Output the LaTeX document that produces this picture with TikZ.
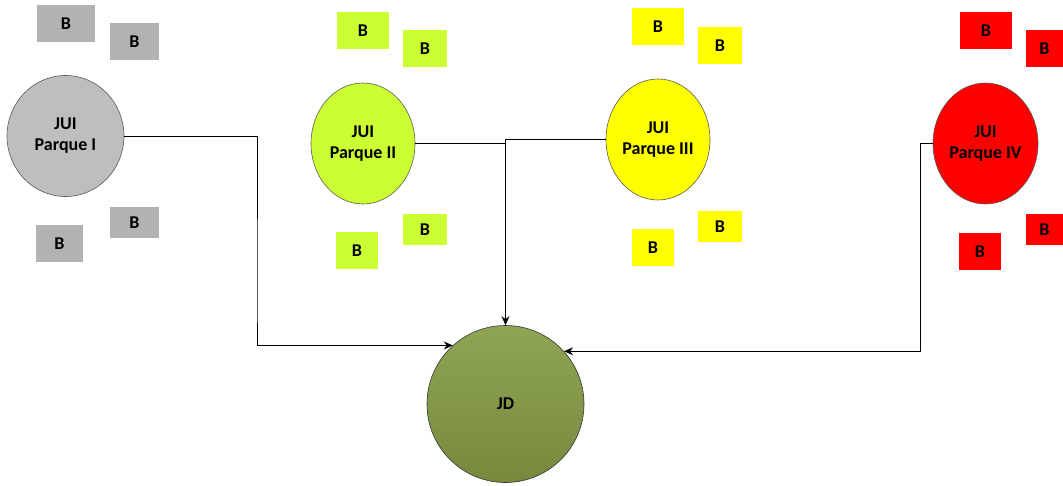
\documentclass[tikz,border=0pt]{standalone}
\usepackage{fontspec}
\setmainfont{Carlito}[BoldFont={Carlito Bold}]
\usepackage{tikz}
\usetikzlibrary{arrows.meta,shapes.geometric}
\definecolor{grey}{HTML}{B2B2B2}
\definecolor{lime}{HTML}{CCFF33}
\definecolor{yell}{HTML}{FFFF00}
\definecolor{rojo}{HTML}{FF0000}
\definecolor{olivetop}{HTML}{90A455}
\definecolor{olivebot}{HTML}{76893D}
\tikzset{
  every picture/.style={font=\fontsize{18}{21}\selectfont\bfseries, line join=round, >={Stealth[length=9pt,width=8pt]}},
  jui/.style={ellipse, draw=black!65, line width=0.6pt, inner sep=0pt, align=center},
  bx/.style={inner sep=0pt, minimum height=37pt},
  link/.style={line width=0.9pt},
}
\begin{document}
\begin{tikzpicture}[x=1pt,y=-1pt]
\useasboundingbox (0,0) rectangle (1063,486);
% parques
\node[jui, fill=grey!85, minimum width=117pt, minimum height=121pt](p1) at (65.5,136){JUI\\Parque I};
\node[jui, fill=lime, minimum width=104pt, minimum height=121pt](p2) at (363,143.5){JUI\\Parque II};
\node[jui, fill=yell, minimum width=104pt, minimum height=121pt](p3) at (658,139.5){JUI\\Parque III};
\node[jui, fill=rojo, minimum width=105pt, minimum height=121pt](p4) at (985.5,143.5){JUI\\Parque IV};
\node[circle, draw=black!80, line width=0.6pt, top color=olivetop, bottom color=olivebot, minimum size=157pt, inner sep=0pt](jd) at (505.5,404){JD};
% bloques
\node[bx, fill=grey, minimum width=58pt](g1) at (66,23.5){B};
\node[bx, fill=grey, minimum width=49pt](g2) at (134.5,41.5){B};
\node[bx, fill=grey, minimum width=49pt, minimum height=31pt](g3) at (134.5,222.5){B};
\node[bx, fill=grey, minimum width=47pt](g4) at (59.5,243.5){B};
\node[bx, fill=lime, minimum width=52pt](l1) at (363,30.5){B};
\node[bx, fill=lime, minimum width=44pt](l2) at (425,48.5){B};
\node[bx, fill=lime, minimum width=44pt, minimum height=31pt](l3) at (425,229.5){B};
\node[bx, fill=lime, minimum width=42pt](l4) at (357,251){B};
\node[bx, fill=yell, minimum width=52pt](y1) at (658,26.5){B};
\node[bx, fill=yell, minimum width=44pt](y2) at (720,45.5){B};
\node[bx, fill=yell, minimum width=44pt, minimum height=31pt](y3) at (720,226.5){B};
\node[bx, fill=yell, minimum width=42pt](y4) at (653,247.5){B};
\node[bx, fill=rojo, minimum width=52pt](r1) at (986,30.5){B};
\node[bx, fill=rojo, minimum width=37pt](r2) at (1044.5,48.5){B};
\node[bx, fill=rojo, minimum width=37pt, minimum height=31pt](r3) at (1044.5,229.5){B};
\node[bx, fill=rojo, minimum width=42pt](r4) at (980,251.5){B};
% conexiones
\coordinate (c1) at (257,300);
\coordinate (c4) at (920,300);
\draw[link,->](p1.east)-|(c1)|-(jd.132);
\draw[link](p2.east)--(p2.east-|jd.north);
\draw[link,->](p3.west)-|(jd.north);
\draw[link,->](p4.west)-|(c4)|-(jd.42.5);
\end{tikzpicture}
\end{document}
